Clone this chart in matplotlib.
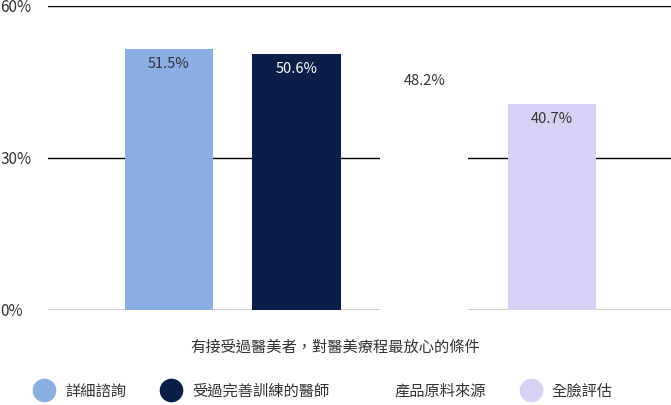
import matplotlib.pyplot as plt
from matplotlib.lines import Line2D

plt.rcParams['font.family'] = ['Noto Sans CJK TC', 'DejaVu Sans']

# data
categories = ['詳細諮詢', '受過完善訓練的醫師', '產品原料來源', '全臉評估']
values = [51.5, 50.6, 48.2, 40.7]
colors = ['#88AEE4', '#091F4A', '#FFFFFF', '#D5D2F5']
label_colors = ['#333333', '#FFFFFF', '#333333', '#333333']
yticks = [0, 30, 60]
title = '有接受過醫美者，對醫美療程最放心的條件'

W, H = 671, 405
fig = plt.figure(figsize=(W / 100, H / 100), dpi=100)
ax = fig.add_axes([48 / W, (H - 310) / H, (W - 48) / W, (310 - 6) / H])

x = list(range(len(categories)))
ax.bar(x, values, width=0.69, color=colors, zorder=3)
for xi, v, lc in zip(x, values, label_colors):
    ax.annotate(f'{v}%', (xi, v), xytext=(0, -11), textcoords='offset points',
                ha='center', va='center', fontsize=10.5, color=lc, zorder=4)

ax.set_xlim(-0.945, 3.93)
ax.set_ylim(0, 60)
ax.set_yticks(yticks)
ax.set_yticklabels([f'{t}%' for t in yticks])
ax.yaxis.grid(True, color='black', linewidth=1.0, zorder=0)
ax.set_axisbelow(True)
ax.tick_params(axis='y', length=0, pad=34.5, labelsize=11, labelcolor='#333333')
for lab in ax.get_yticklabels():
    lab.set_horizontalalignment('left')
ax.set_xticks([])
for s in ax.spines.values():
    s.set_visible(False)

fig.text(335 / W, 1 - 347 / H, title, ha='center', va='center',
         fontsize=11, color='#333333')

handles = [Line2D([], [], linestyle='none', marker='o', markersize=16,
                  markerfacecolor=c, markeredgecolor=c) for c in colors]
fig.legend(handles, categories, loc='center left', bbox_to_anchor=(33 / W, 1 - 391 / H),
           ncol=4, frameon=False, fontsize=11, handlelength=1.5, handletextpad=0.6,
           columnspacing=2.2, borderpad=0, borderaxespad=0, labelcolor='#333333')

fig.savefig('out.png', dpi=100)
